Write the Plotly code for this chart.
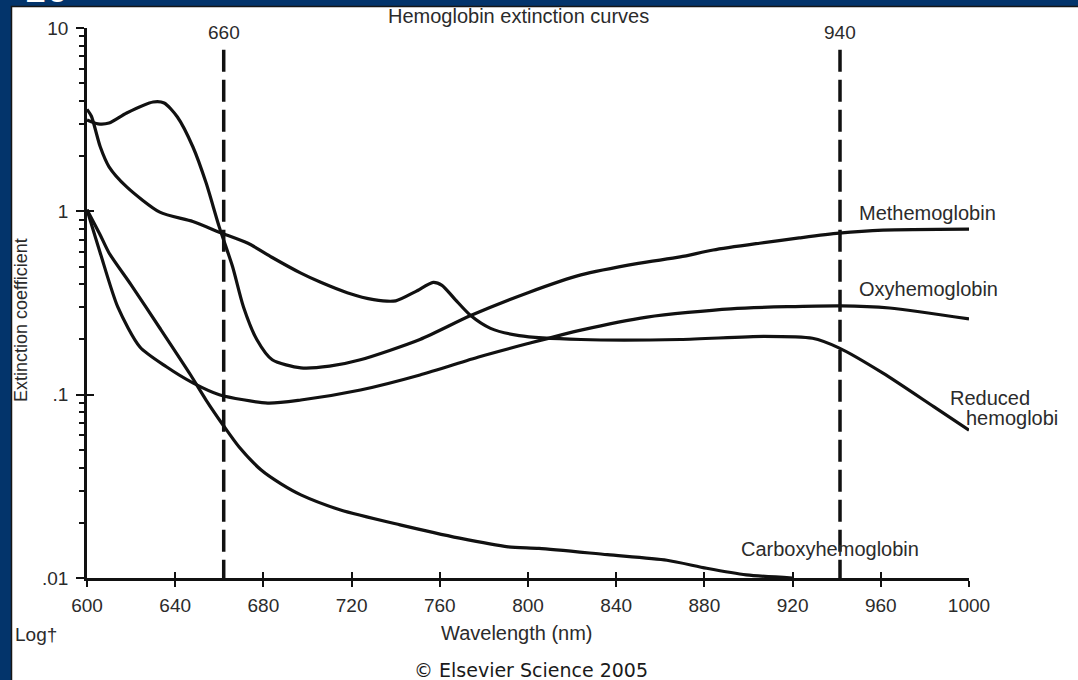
import plotly.graph_objects as go

# ---------------- data ----------------
methemoglobin_nm = [600, 605, 610, 618, 630, 635, 641, 648, 654, 660, 666, 671, 677, 684, 697, 710, 724, 751, 774, 800, 824, 850, 869, 884, 905, 923, 941, 961, 1000]
methemoglobin_val = [3.15, 3.0, 3.03, 3.44, 3.95, 3.9, 3.27, 2.25, 1.43, 0.82, 0.50, 0.30, 0.20, 0.155, 0.14, 0.143, 0.155, 0.20, 0.27, 0.36, 0.45, 0.52, 0.564, 0.615, 0.67, 0.716, 0.76, 0.79, 0.80]

reduced_nm = [600, 602, 606, 610, 618, 633, 648, 660, 673, 684, 697, 706, 718, 730, 740, 749, 757, 761, 767, 774, 783, 796, 824, 869, 907, 929, 941, 961, 984, 1000]
reduced_val = [3.6, 3.3, 2.25, 1.75, 1.36, 0.99, 0.88, 0.77, 0.67, 0.56, 0.46, 0.41, 0.36, 0.33, 0.325, 0.365, 0.41, 0.395, 0.33, 0.27, 0.23, 0.21, 0.20, 0.20, 0.208, 0.203, 0.18, 0.131, 0.086, 0.064]

oxy_nm = [600, 606, 614, 624, 636, 648, 660, 682, 697, 724, 751, 778, 800, 824, 854, 892, 942, 964, 1000]
oxy_val = [1.02, 0.593, 0.30, 0.182, 0.142, 0.116, 0.10, 0.090, 0.0935, 0.106, 0.128, 0.161, 0.19, 0.225, 0.265, 0.294, 0.305, 0.297, 0.259]

carboxy_nm = [600, 606, 610, 620, 633, 647, 654, 662, 669, 679, 688, 697, 715, 742, 769, 791, 805, 836, 863, 881, 899, 920]
carboxy_val = [1.02, 0.743, 0.593, 0.397, 0.231, 0.128, 0.0935, 0.0675, 0.0518, 0.0388, 0.0326, 0.0284, 0.0235, 0.0195, 0.0165, 0.0148, 0.0145, 0.0134, 0.0125, 0.0113, 0.0104, 0.0100]

marker_nm = [662, 941.5]          # dashed reference lines
marker_labels = ["660", "940"]
marker_top = 7.6

x_ticks = [600, 640, 680, 720, 760, 800, 840, 880, 920, 960, 1000]
y_ticks = [0.01, 0.1, 1, 10]
y_tick_text = [".01", ".1", "1", "10"]

curve_labels = ["Methemoglobin", "Oxyhemoglobin", "Reduced", "hemoglobi", "Carboxyhemoglobin"]

# ---------------- layout geometry ----------------
W, H = 1078, 680
L, R, T, B = 87, 109, 28, 102
PW, PH = W - L - R, H - T - B


def px(x):
    return (x - L) / PW


def py(y):
    return (H - B - y) / PH


FONT = "Liberation Sans, Arial, Helvetica, sans-serif"
TXT = "#2b2b2b"
BLUE = "#03346B"

fig = go.Figure()

line_style = dict(color="#111111", width=3.2, shape="spline", smoothing=0.7)
for nm, val in [(methemoglobin_nm, methemoglobin_val), (reduced_nm, reduced_val),
                (oxy_nm, oxy_val), (carboxy_nm, carboxy_val)]:
    fig.add_trace(go.Scatter(x=nm, y=val, mode="lines", line=line_style,
                             showlegend=False, hoverinfo="skip"))

for xv in marker_nm:
    fig.add_trace(go.Scatter(x=[xv, xv], y=[marker_top, 0.01], mode="lines",
                             line=dict(color="#111111", width=3.5, dash="22px,8px"),
                             showlegend=False, hoverinfo="skip"))

minor_vals = [k * 10 ** e for e in (-2, -1, 0) for k in range(2, 10)]

fig.update_layout(
    width=W, height=H,
    margin=dict(l=L, r=R, t=T, b=B, pad=0, autoexpand=False),
    paper_bgcolor=BLUE,
    plot_bgcolor="white",
    showlegend=False,
    font=dict(family=FONT, color=TXT, size=19),
    xaxis=dict(range=[600, 1000], tickvals=x_ticks, ticks="outside", ticklen=6,
               tickwidth=2.2, tickcolor="#111", showline=True, linewidth=2.5,
               linecolor="#111", showgrid=False, zeroline=False, automargin=False,
               tickfont=dict(size=19, color=TXT, family=FONT), ticklabelstandoff=2),
    xaxis2=dict(range=[600, 1000], tickvals=x_ticks, ticks="inside", ticklen=6,
                tickwidth=2.2, tickcolor="#111", overlaying="x", matches="x",
                automargin=False,
                showticklabels=False, showgrid=False, zeroline=False, side="bottom"),
    yaxis=dict(type="log", range=[-2, 1], tickvals=y_ticks, ticktext=y_tick_text,
               ticks="outside", ticklen=8, tickwidth=2.2, tickcolor="#111",
               showline=True, linewidth=2.5, linecolor="#111", showgrid=False,
               zeroline=False, automargin=False,
               tickfont=dict(size=19, color=TXT, family=FONT),
               ticklabelstandoff=4,
               minor=dict(tickvals=minor_vals, ticks="outside", ticklen=5,
                          tickwidth=2, tickcolor="#111", showgrid=False)),
    yaxis2=dict(type="log", range=[-2, 1], tickvals=y_ticks, ticks="inside",
                ticklen=7, tickwidth=2.2, tickcolor="#111", overlaying="y",
                automargin=False,
                showticklabels=False, showgrid=False, zeroline=False, side="left"),
)

# dummy trace to activate overlay axes
fig.add_trace(go.Scatter(x=[None], y=[None], xaxis="x2", yaxis="y2", showlegend=False))

# frame: white panel on blue paper
fig.add_shape(type="rect", xref="paper", yref="paper",
              x0=px(11.5), x1=px(W + 5), y0=py(H + 5), y1=py(6.5),
              fillcolor="white", line=dict(color="#161616", width=1.5), layer="below")

ann = []


def text(s, x, y, size=19, xanchor="center", yanchor="middle", color=TXT,
         family=FONT, angle=0):
    ann.append(dict(text=s, x=px(x), y=py(y), xref="paper", yref="paper",
                    xanchor=xanchor, yanchor=yanchor, showarrow=False,
                    textangle=angle, font=dict(size=size, color=color, family=family)))


text("Hemoglobin extinction curves", 518, 16, size=20)
for xv, lab in zip(marker_nm, marker_labels):
    text(lab, L + (xv - 600) * PW / 400, 33, size=19)
text(curve_labels[0], 857, 213, size=20, xanchor="left")
text(curve_labels[1], 857, 289, size=20, xanchor="left")
text(curve_labels[2], 948, 398, size=20, xanchor="left")
text(curve_labels[3], 964, 418, size=20, xanchor="left")
text(curve_labels[4], 739, 549, size=20, xanchor="left")
text("Wavelength (nm)", 517, 633, size=20)
text("Log\u2020", 13, 634, size=19, xanchor="left")
text("Extinction coefficient", 21, 320, size=18, angle=-90)
text("\u00a9 Elsevier Science 2005", 531, 683, size=19, yanchor="bottom",
     family="DejaVu Sans, Verdana, sans-serif", color="#1a1a1a")
text("10", 46, 12, size=40, yanchor="bottom", color="white")

fig.update_layout(annotations=ann)

fig.write_html("out.html", config={"displayModeBar": False},
               post_script="document.body.style.margin='0';document.body.style.padding='0';")
